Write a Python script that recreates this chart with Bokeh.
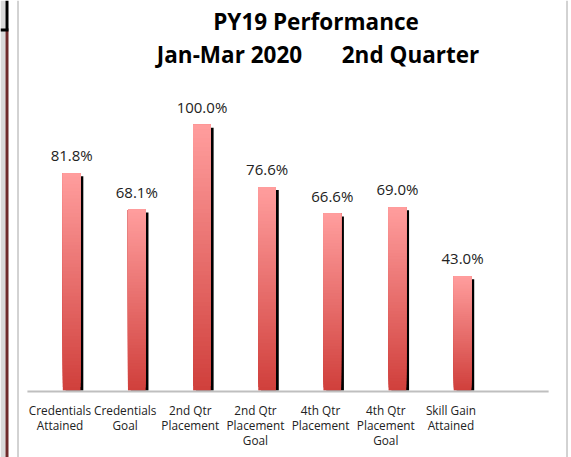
from bokeh.plotting import figure
from bokeh.models import ColumnDataSource, Range1d
from bokeh.core.properties import value
from bokeh.embed import file_html
from bokeh.resources import INLINE

# ---- data ----
categories = ["Credentials\nAttained", "Credentials\nGoal", "2nd Qtr\nPlacement",
              "2nd Qtr\nPlacement\nGoal", "4th Qtr\nPlacement", "4th Qtr\nPlacement\nGoal",
              "Skill Gain\nAttained"]
values = [81.8, 68.1, 100.0, 76.6, 66.6, 69.0, 43.0]
value_labels = ["81.8%", "68.1%", "100.0%", "76.6%", "66.6%", "69.0%", "43.0%"]
title_line1 = "PY19 Performance"
title_line2a = "Jan-Mar 2020"
title_line2b = "2nd Quarter"
n_slots = 8  # category axis has one extra empty slot

# ---- layout constants (pixel geometry) ----
W, H = 571, 457
UNIT = 65.15          # px per category
PXV = 2.657           # px per percentage point

def dx(px):  # canvas px -> data x
    return (px - 59.5) / UNIT

def dy(py):  # canvas px -> data y
    return (390 - py) / PXV

x_start, x_end = dx(0), dx(W)
y_start, y_end = dy(H), dy(0)

p = figure(width=W, height=H, output_backend="svg", toolbar_location=None,
           x_range=Range1d(x_start, x_end), y_range=Range1d(y_start, y_end),
           x_axis_location=None, y_axis_location=None, min_border=0)
p.grid.visible = False
p.outline_line_color = None
p.background_fill_color = "white"
p.border_fill_color = "white"

# left decorative strip (neighbouring frame)
p.quad(left=[dx(0), dx(5), dx(0)], right=[dx(5), dx(8), dx(8)],
       bottom=[y_start, y_start, dy(31)], top=[y_end, dy(29), dy(28)],
       fill_color=["#d9d9d9", "#6e2a2a", "black"], line_color=None)
p.quad(left=[dx(5)], right=[dx(8)], bottom=[dy(29)], top=[y_end], fill_color="black", line_color=None)

# chart borders (left/right)
p.segment(x0=[dx(17.5), dx(566.5)], y0=[y_start, y_start], x1=[dx(17.5), dx(566.5)], y1=[y_end, y_end],
          line_color="#a6a6a6", line_width=1)

BAR_OFF = 0.179
BAR_W = 17.7 / UNIT
SH_DX = 2.8 / UNIT
SH_DY = 3.0 / PXV

xs = [i + BAR_OFF for i in range(len(values))]

# shadows
p.vbar(x=[x + SH_DX for x in xs], width=BAR_W, bottom=0, top=[v - SH_DY for v in values],
       fill_color="black", line_color=None)

# gradient bars (stacked overlapping slices, each from its level up to bar top)
N = 60
top_c = (255, 157, 157)
bot_c = (208, 64, 60)
L, R, B, T, C = [], [], [], [], []
for k in range(N):
    t = k / (N - 1)
    col = "#%02x%02x%02x" % tuple(int(round(bot_c[j] + (top_c[j] - bot_c[j]) * t)) for j in range(3))
    for x, v in zip(xs, values):
        L.append(x - BAR_W / 2)
        R.append(x + BAR_W / 2)
        B.append(v * k / N)
        T.append(v)
        C.append(col)
p.quad(source=ColumnDataSource(dict(l=L, r=R, b=B, t=T, c=C)),
       left="l", right="r", bottom="b", top="t", fill_color="c", line_color=None)

# axis baseline
p.segment(x0=[-0.5], y0=[dy(391)], x1=[n_slots - 0.5], y1=[dy(391)], line_color="#bfbfbf", line_width=2)

# value labels
p.text(x=xs, y=[v + 18 / PXV for v in values], text=value_labels,
       text_font=value("Open Sans"), text_font_size="15px", text_color="#222222",
       text_align="center", text_baseline="alphabetic")

# category labels (each line drawn separately)
lx, ly, lt = [], [], []
for i, c in enumerate(categories):
    for j, line in enumerate(c.split("\n")):
        lx.append(i)
        ly.append(dy(409 + 15.3 * j))
        lt.append(line)
p.text(x=lx, y=ly, text=lt, text_font=value("Open Sans"), text_font_size="11.8px",
       text_color="#222222", text_align="center", text_baseline="alphabetic")

# titles
p.text(x=[dx(315.5)], y=[dy(20.5)], text=[title_line1], text_font=value("Open Sans"),
       text_font_size="22.5px", text_font_style="bold", text_color="black",
       text_align="center", text_baseline="alphabetic")
p.text(x=[dx(229), dx(410)], y=[dy(53.5), dy(53.5)], text=[title_line2a, title_line2b],
       text_font=value("Open Sans"), text_font_size="22.5px", text_font_style="bold",
       text_color="black", text_align="center", text_baseline="alphabetic")

open("out.html", "w").write(file_html(p, INLINE))
